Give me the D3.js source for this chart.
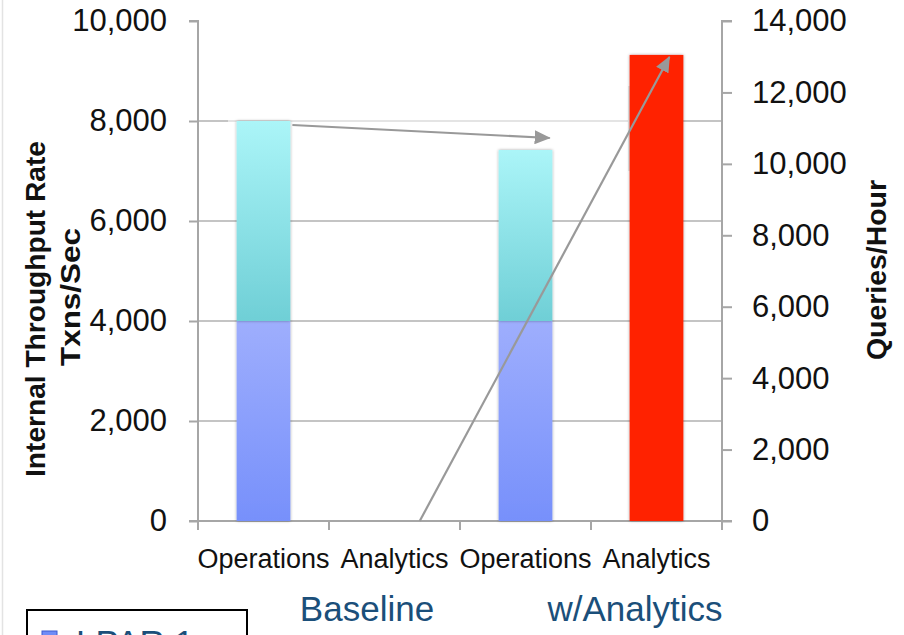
<!DOCTYPE html>
<html>
<head>
<meta charset="utf-8">
<script src="https://cdn.jsdelivr.net/npm/d3@7"></script>
<style>
  html, body { margin: 0; padding: 0; background: #fff; }
  svg { display: block; }
  text { font-family: "Liberation Sans", Arial, sans-serif; }
</style>
</head>
<body>
<svg id="chart" width="904" height="635"></svg>
<script>
// ---------- data ----------
const categories = ["Operations", "Analytics", "Operations", "Analytics"];
const groups = ["Baseline", "w/Analytics"];
const lpar1 = [4000, 0, 4000, 0];          // Txns/Sec (left axis)
const lpar2 = [4000, 0, 3420, 0];          // Txns/Sec (left axis)
const queries = [0, 0, 0, 13050];          // Queries/Hour (right axis)
const leftTicks = [0, 2000, 4000, 6000, 8000, 10000];
const rightTicks = [0, 2000, 4000, 6000, 8000, 10000, 12000, 14000];
const gridTicks = [2000, 4000, 6000, 8000];
const legendLabels = ["LPAR 1"];

// ---------- layout ----------
const svg = d3.select("#chart");
const X0 = 198, X1 = 722, Y0 = 521, Y1 = 21;
const fmt = d3.format(",");
const axisColor = "#a6a6a6";

const x = d3.scaleBand().domain(d3.range(categories.length)).range([X0, X1]).padding(0);
const yL = d3.scaleLinear().domain([0, 10000]).range([Y0, Y1]);
const yR = d3.scaleLinear().domain([0, 14000]).range([Y0, Y1]);
const bw = x.bandwidth() * 0.41;
const cx = i => x(i) + x.bandwidth() / 2;

const defs = svg.append("defs");
function grad(id, top, bottom) {
  const g = defs.append("linearGradient").attr("id", id)
    .attr("x1", 0).attr("y1", 0).attr("x2", 0).attr("y2", 1);
  g.append("stop").attr("offset", "0%").attr("stop-color", top);
  g.append("stop").attr("offset", "100%").attr("stop-color", bottom);
}
grad("gL1", "#9eaefd", "#7790fb");
grad("gL2", "#abf5f8", "#6fcfd6");
const f = defs.append("filter").attr("id", "sh").attr("x", "-20%").attr("y", "-5%").attr("width", "140%").attr("height", "110%");
f.append("feDropShadow").attr("dx", 0).attr("dy", 0).attr("stdDeviation", 1.6)
  .attr("flood-color", "#000").attr("flood-opacity", 0.35);
defs.append("marker").attr("id", "arr").attr("markerUnits", "userSpaceOnUse")
  .attr("viewBox", "0 0 16 14").attr("refX", 15).attr("refY", 7)
  .attr("markerWidth", 16).attr("markerHeight", 14).attr("orient", "auto")
  .append("path").attr("d", "M0,0 L16,7 L0,14 Z").attr("fill", "#999");

// slide edge
svg.append("line").attr("x1", 2.5).attr("x2", 2.5).attr("y1", 0).attr("y2", 635)
  .attr("stroke", "#e3e3e3").attr("stroke-width", 1.5);

// gridlines
svg.append("g").selectAll("line").data(gridTicks).join("line")
  .attr("x1", X0).attr("x2", X1).attr("y1", d => yL(d)).attr("y2", d => yL(d))
  .attr("stroke", "#b0b0b0").attr("stroke-width", 1.5);

// faint overlay panel near top (semi-transparent shape in the source slide)
svg.append("rect").attr("x", X0 + 30).attr("y", yL(8700)).attr("width", x(3) + 38 - X0 - 30)
  .attr("height", yL(7000) - yL(8700)).attr("fill", "#fff").attr("opacity", 0.55);
svg.append("rect").attr("x", x(3) + 37).attr("y", yL(8700)).attr("width", 4)
  .attr("height", yL(7000) - yL(8700)).attr("fill", "#e8e8e8");

// axes
const gl = svg.append("g").attr("transform", `translate(${X0},0)`)
  .call(d3.axisLeft(yL).tickValues(leftTicks).tickFormat(fmt).tickSize(9).tickPadding(22));
const gr = svg.append("g").attr("transform", `translate(${X1},0)`)
  .call(d3.axisRight(yR).tickValues(rightTicks).tickFormat(fmt).tickSize(10).tickPadding(20));
const gb = svg.append("g").attr("transform", `translate(0,${Y0})`)
  .call(d3.axisBottom(x).tickValues(d3.range(categories.length + 1).map(i => i))
    .tickFormat("").tickSize(9));
// reposition bottom ticks onto band boundaries
gb.selectAll(".tick").attr("transform", d => `translate(${X0 + d * x.bandwidth()},0)`);
[gl, gr, gb].forEach(g => {
  g.select(".domain").attr("stroke", axisColor).attr("stroke-width", 2);
  g.selectAll(".tick line").attr("stroke", axisColor).attr("stroke-width", 2);
  g.selectAll(".tick text").attr("fill", "#111").style("font-size", "31px")
    .style("font-family", '"Liberation Sans", Arial, sans-serif');
});
gl.select(".domain").attr("d", `M-9,${Y1}H0V${Y0}H-9`);
gr.select(".domain").attr("d", `M10,${Y1}H0V${Y0}H10`);
gb.select(".domain").attr("d", `M${X0 - 8},0H${X1}`);

// category labels
svg.append("g").selectAll("text").data(categories).join("text")
  .attr("x", (d, i) => cx(i)).attr("y", 568).attr("text-anchor", "middle")
  .attr("fill", "#111").style("font-size", "27px").text(d => d);

// bars
const bars = svg.append("g");
categories.forEach((c, i) => {
  if (lpar1[i] > 0) bars.append("rect").attr("x", cx(i) - bw / 2).attr("width", bw)
    .attr("y", yL(lpar1[i])).attr("height", yL(0) - yL(lpar1[i]))
    .attr("fill", "url(#gL1)").attr("filter", "url(#sh)");
  if (lpar2[i] > 0) bars.append("rect").attr("x", cx(i) - bw / 2).attr("width", bw)
    .attr("y", yL(lpar1[i] + lpar2[i])).attr("height", yL(lpar1[i]) - yL(lpar1[i] + lpar2[i]))
    .attr("fill", "url(#gL2)").attr("filter", "url(#sh)");
  if (queries[i] > 0) bars.append("rect").attr("x", cx(i) - bw / 2).attr("width", bw)
    .attr("y", yR(queries[i])).attr("height", yR(0) - yR(queries[i]))
    .attr("fill", "#ff2200").attr("filter", "url(#sh)");
});

// arrows
const arrows = [
  { x1: cx(0) + bw / 2 + 2, y1: yL(lpar1[0] + lpar2[0]) + 4, x2: cx(2) + bw * 0.45, y2: yL(lpar1[2] + lpar2[2]) - 12 },
  { x1: cx(1) + bw * 0.47, y1: yR(0), x2: cx(3) + bw * 0.24, y2: yR(queries[3]) + 2 }
];
svg.append("g").selectAll("line").data(arrows).join("line")
  .attr("x1", d => d.x1).attr("y1", d => d.y1).attr("x2", d => d.x2).attr("y2", d => d.y2)
  .attr("stroke", "#999").attr("stroke-width", 2.2).attr("marker-end", "url(#arr)");

// axis titles
svg.append("text").attr("transform", "translate(45,309) rotate(-90)")
  .attr("text-anchor", "middle").attr("font-weight", "bold").style("font-size", "27px")
  .attr("textLength", 336).attr("lengthAdjust", "spacingAndGlyphs")
  .attr("fill", "#111").text("Internal Throughput Rate");
svg.append("text").attr("transform", "translate(80,297) rotate(-90)")
  .attr("text-anchor", "middle").attr("font-weight", "bold").style("font-size", "27px")
  .attr("textLength", 138).attr("lengthAdjust", "spacingAndGlyphs")
  .attr("fill", "#111").text("Txns/Sec");
svg.append("text").attr("transform", "translate(886,270) rotate(-90)")
  .attr("text-anchor", "middle").attr("font-weight", "bold").style("font-size", "27px")
  .attr("textLength", 180).attr("lengthAdjust", "spacingAndGlyphs")
  .attr("fill", "#111").text("Queries/Hour");

// group labels
const groupX = [(cx(0) + cx(1)) / 2 + 38, (cx(2) + cx(3)) / 2 + 44];
svg.append("g").selectAll("text").data(groups).join("text")
  .attr("x", (d, i) => groupX[i]).attr("y", 621).attr("text-anchor", "middle")
  .attr("fill", "#1b4f7a").style("font-size", "35px").text(d => d);

// legend (partially visible)
const lg = svg.append("g");
lg.append("rect").attr("x", 27).attr("y", 610).attr("width", 220).attr("height", 60)
  .attr("fill", "#fff").attr("stroke", "#000").attr("stroke-width", 2);
legendLabels.forEach((t, i) => {
  lg.append("rect").attr("x", 42).attr("y", 631).attr("width", 15).attr("height", 15)
    .attr("fill", "#6f8cf7").attr("stroke", "#3d5bd0").attr("stroke-width", 1);
  lg.append("text").attr("x", 76).attr("y", 655).attr("fill", "#1b4f7a")
    .style("font-size", "35px").text(t);
});
</script>
</body>
</html>
